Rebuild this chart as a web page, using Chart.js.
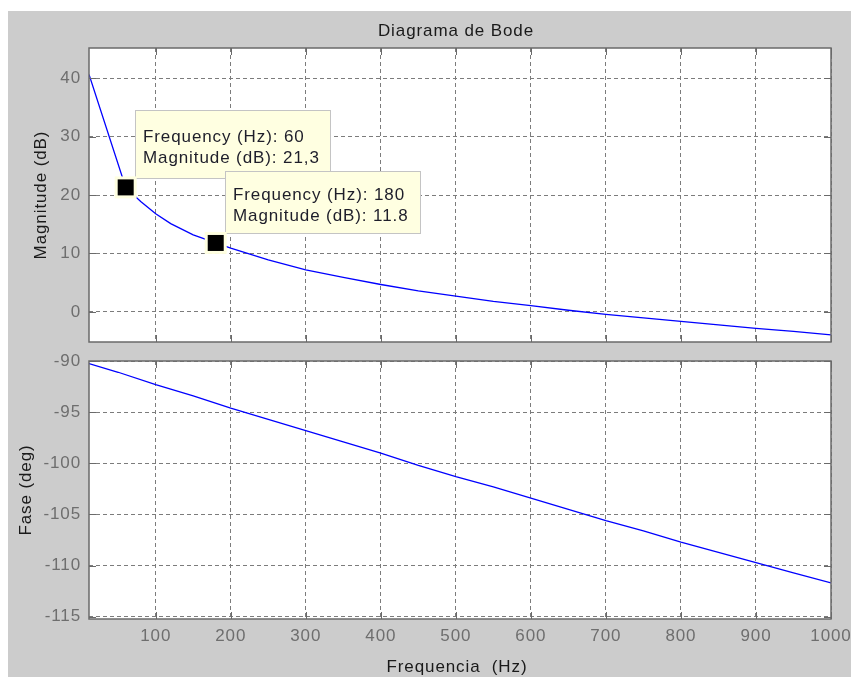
<!DOCTYPE html>
<html>
<head>
<meta charset="utf-8">
<script src="https://cdn.jsdelivr.net/npm/chart.js@4/dist/chart.umd.min.js"></script>
<style>
  html, body { margin: 0; padding: 0; background: #ffffff; }
  #fig { position: absolute; left: 8px; top: 11px; width: 843px; height: 666px; background: #cccccc; }
  canvas { position: absolute; left: 0; top: 0; width: 851px; height: 677px; }
</style>
</head>
<body>
<div id="fig"></div>
<canvas id="mag" width="851" height="677"></canvas>
<canvas id="phase" width="851" height="677"></canvas>
<script>
// ---- data ----
const freqTicks = [100, 200, 300, 400, 500, 600, 700, 800, 900, 1000];
const magTicks = [0, 10, 20, 30, 40];
const phaseTicks = [-115, -110, -105, -100, -95, -90];

const magFreq = [11.1, 60, 80, 100, 120, 150, 180, 200, 250, 300, 350, 400, 450, 500,
                 550, 600, 650, 700, 750, 800, 850, 900, 950, 1000];
const magDb = [40.6, 21.3, 18.9, 16.8, 15.1, 13.2, 11.8, 10.9, 8.9, 7.2, 5.9, 4.7, 3.6, 2.7,
               1.8, 1.1, 0.3, -0.4, -1.0, -1.6, -2.2, -2.8, -3.3, -3.9];

const phaseFreq = [11.1, 50, 100, 150, 200, 250, 300, 350, 400, 450, 500,
                   550, 600, 650, 700, 750, 800, 850, 900, 950, 1000];
const phaseDeg = [-90.25, -91.1, -92.3, -93.4, -94.6, -95.7, -96.8, -97.9, -99.0, -100.2, -101.3,
                  -102.3, -103.4, -104.5, -105.6, -106.6, -107.7, -108.7, -109.7, -110.7, -111.7];

// data tips on the magnitude curve
const tipFreq = [60, 180];
const tipMag = [21.3, 11.8];
const tipMagText = ['21,3', '11.8'];

// ---- styling ----
const FONT = "'Liberation Sans', Arial, sans-serif";
const SPACING = '0.9px';
const TICK_COLOR = '#6e6e6e';
const GRID_COLOR = '#7c7c7c';
const BOX_COLOR = '#6a6a6a';
const TEXT_COLOR = '#1a1a1a';
const LINE_COLOR = '#0000ff';
const TICK_LEN = 7;
const tipBoxStyle = [{ dx: 9, dy: -77, w: 195, h: 68 }, { dx: 9, dy: -72, w: 195, h: 62 }];

Chart.defaults.font.family = FONT;
Chart.defaults.font.size = 17;

const toPoints = (xs, ys) => xs.map((x, i) => ({ x, y: ys[i] }));
const setTicks = list => scale => { scale.ticks = list.map(v => ({ value: v })); };
const fixSize = (w, h) => scale => {
  if (w !== null) scale.width = w;
  if (h !== null) scale.height = h;
  scale.paddingLeft = scale.paddingRight = scale.paddingTop = scale.paddingBottom = 0;
};
const plainLabel = v => String(v);

// white plot area, boxed axes with inward ticks, and free text labels
const framePlugin = {
  id: 'frame',
  beforeDraw(chart) {
    const { ctx, chartArea: a } = chart;
    ctx.letterSpacing = SPACING;
    ctx.save();
    ctx.fillStyle = '#ffffff';
    ctx.fillRect(a.left, a.top, a.right - a.left, a.bottom - a.top);
    ctx.restore();
  },
  afterDraw(chart, args, opts) {
    const { ctx, chartArea: a, scales } = chart;
    ctx.save();
    ctx.strokeStyle = BOX_COLOR;
    ctx.lineWidth = 1;
    ctx.beginPath();
    scales.x.ticks.forEach(t => {
      const px = Math.round(scales.x.getPixelForValue(t.value)) + 0.5;
      ctx.moveTo(px, a.bottom); ctx.lineTo(px, a.bottom - TICK_LEN);
      ctx.moveTo(px, a.top); ctx.lineTo(px, a.top + TICK_LEN);
    });
    scales.y.ticks.forEach(t => {
      const py = Math.round(scales.y.getPixelForValue(t.value)) + 0.5;
      ctx.moveTo(a.left, py); ctx.lineTo(a.left + TICK_LEN, py);
      ctx.moveTo(a.right, py); ctx.lineTo(a.right - TICK_LEN, py);
    });
    ctx.stroke();
    ctx.lineWidth = 1.5;
    ctx.strokeRect(a.left, a.top, a.right - a.left, a.bottom - a.top);

    ctx.letterSpacing = SPACING;
    ctx.fillStyle = TEXT_COLOR;
    ctx.font = '17px ' + FONT;
    (opts.texts || []).forEach(t => {
      ctx.save();
      ctx.translate(t.x, t.y);
      if (t.rotate) ctx.rotate(-Math.PI / 2);
      ctx.textAlign = 'center';
      ctx.textBaseline = 'alphabetic';
      ctx.fillText(t.text, 0, 0);
      ctx.restore();
    });
    ctx.restore();
  }
};

// data tip markers and their annotation boxes
const tipPlugin = {
  id: 'tips',
  afterDraw(chart) {
    const { ctx, scales } = chart;
    ctx.save();
    ctx.letterSpacing = SPACING;
    tipFreq.forEach((f, i) => {
      const mx = scales.x.getPixelForValue(f);
      const my = scales.y.getPixelForValue(tipMag[i]);
      const s = tipBoxStyle[i];
      const bx = Math.round(mx + s.dx) + 0.5;
      const by = Math.round(my + s.dy) + 0.5;
      ctx.fillStyle = '#ffffe1';
      ctx.fillRect(bx, by, s.w, s.h);
      ctx.strokeStyle = '#c4c4c4';
      ctx.lineWidth = 1;
      ctx.strokeRect(bx, by, s.w, s.h);
      ctx.fillStyle = '#1e1e2a';
      ctx.font = '17px ' + FONT;
      ctx.textAlign = 'left';
      ctx.textBaseline = 'alphabetic';
      ctx.fillText('Frequency (Hz): ' + f, bx + 7.5, by + s.h / 2 - 3);
      ctx.fillText('Magnitude (dB): ' + tipMagText[i], bx + 7.5, by + s.h / 2 + 18.5);
      // marker: black square with a pale halo
      ctx.fillStyle = '#ffffe1';
      ctx.fillRect(mx - 11, my - 11, 22, 22);
      ctx.fillStyle = '#000000';
      ctx.fillRect(mx - 8, my - 8, 16, 16);
    });
    ctx.restore();
  }
};

const xScale = (showLabels, height) => ({
  type: 'linear',
  min: 11.1,
  max: 1000,
  afterBuildTicks: setTicks(freqTicks),
  afterFit: fixSize(null, height),
  grid: { display: true, color: GRID_COLOR, lineWidth: 1, drawTicks: false },
  border: { display: false, dash: [4, 3] },
  ticks: { display: showLabels, color: TICK_COLOR, padding: 7, maxRotation: 0, autoSkip: false,
           font: { size: 17 }, callback: plainLabel }
});

const yScale = (min, max, ticks) => ({
  type: 'linear',
  min, max,
  afterBuildTicks: setTicks(ticks),
  afterFit: fixSize(50, null),
  grid: { display: true, color: GRID_COLOR, lineWidth: 1, drawTicks: false },
  border: { display: false, dash: [4, 3] },
  ticks: { color: TICK_COLOR, padding: 8, font: { size: 17 }, callback: plainLabel }
});

const baseOptions = (padding, scales, texts) => ({
  responsive: false,
  animation: false,
  devicePixelRatio: 1,
  events: [],
  layout: { padding },
  scales,
  plugins: {
    legend: { display: false },
    tooltip: { enabled: false },
    title: { display: false },
    frame: { texts }
  }
});

new Chart(document.getElementById('mag'), {
  type: 'line',
  data: {
    datasets: [{
      data: toPoints(magFreq, magDb),
      borderColor: LINE_COLOR,
      borderWidth: 1.3,
      pointRadius: 0,
      tension: 0
    }]
  },
  options: baseOptions(
    { left: 39, top: 48, right: 20, bottom: 335 },
    { x: xScale(false, 0), y: yScale(-5.13, 45.13, magTicks) },
    [
      { text: 'Diagrama de Bode', x: 456, y: 35.5 },
      { text: 'Magnitude (dB)', x: 46, y: 195, rotate: true }
    ]
  ),
  plugins: [framePlugin, tipPlugin]
});

new Chart(document.getElementById('phase'), {
  type: 'line',
  data: {
    datasets: [{
      data: toPoints(phaseFreq, phaseDeg),
      borderColor: LINE_COLOR,
      borderWidth: 1.3,
      pointRadius: 0,
      tension: 0
    }]
  },
  options: baseOptions(
    { left: 39, top: 361, right: 20, bottom: 28 },
    { x: xScale(true, 30), y: yScale(-115.22, -90, phaseTicks) },
    [
      { text: 'Fase (deg)', x: 31, y: 490, rotate: true },
      { text: 'Frequencia  (Hz)', x: 457, y: 671.5 }
    ]
  ),
  plugins: [framePlugin]
});
</script>
</body>
</html>
